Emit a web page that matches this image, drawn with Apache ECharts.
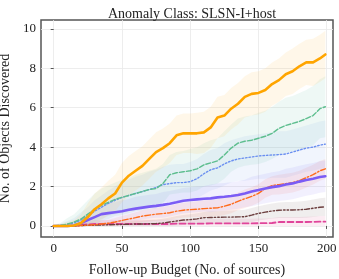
<!DOCTYPE html>
<html><head><meta charset="utf-8">
<script src="https://cdn.jsdelivr.net/npm/echarts@6/dist/echarts.min.js"></script>
<style>html,body{margin:0;padding:0;background:#fff}#c{width:339px;height:279px}</style>
</head><body><div id="c"></div>
<script>
const budget = [0,5,10,15,20,25,30,35,40,45,50,55,60,65,70,75,80,85,90,95,100,105,110,115,120,125,130,135,140,145,150,155,160,165,170,175,180,185,190,195,199];
const xTicks = [0,50,100,150,200];
const yTicks = [0,2,4,6,8,10];

const orangeMean = [0,0,0,0.02,0.15,0.45,0.85,1.1,1.4,1.65,2.2,2.55,2.8,3.05,3.4,3.75,3.95,4.2,4.6,4.7,4.7,4.7,4.75,5.0,5.5,5.6,5.95,6.2,6.55,6.7,6.75,6.9,7.2,7.4,7.7,7.85,8.1,8.3,8.3,8.5,8.7];
const orangeUp = [0.05,0.1,0.2,0.3,0.6,1.15,1.65,1.95,2.3,2.6,3.2,3.55,3.8,4.05,4.4,4.75,4.95,5.2,5.6,5.7,5.7,5.75,5.8,6.05,6.55,6.65,7.0,7.25,7.6,7.8,7.85,8.0,8.3,8.5,8.8,9.0,9.25,9.45,9.5,9.7,9.9];
const orangeLo = [0,0,0,0,0,0,0.1,0.3,0.55,0.75,1.2,1.55,1.8,2.05,2.4,2.75,2.95,3.2,3.6,3.7,3.7,3.65,3.7,3.95,4.45,4.55,4.9,5.15,5.5,5.6,5.65,5.8,6.1,6.3,6.6,6.7,6.95,7.15,7.1,7.3,7.5];

const greenMean = [0,0.03,0.1,0.2,0.35,0.6,0.85,1.05,1.2,1.35,1.45,1.55,1.65,1.75,1.85,1.9,2.15,2.6,2.7,2.75,2.8,2.9,3.1,3.2,3.3,3.6,3.95,4.2,4.3,4.35,4.45,4.55,4.7,4.95,5.1,5.2,5.3,5.45,5.6,5.95,6.05];
const greenUp = [0.05,0.15,0.4,0.6,0.95,1.3,1.65,1.9,2.05,2.2,2.35,2.45,2.6,2.7,2.8,2.9,3.15,3.6,3.75,3.8,3.9,4.0,4.2,4.35,4.45,4.8,5.15,5.45,5.55,5.6,5.75,5.85,6.05,6.3,6.5,6.6,6.75,6.9,7.1,7.45,7.6];
const greenLo = [0,0,0,0,0,0,0.05,0.25,0.35,0.5,0.55,0.65,0.75,0.8,0.9,0.9,1.15,1.6,1.65,1.7,1.7,1.8,2.0,2.05,2.15,2.4,2.75,2.95,3.05,3.1,3.15,3.25,3.4,3.6,3.7,3.8,3.85,4.0,4.1,4.45,4.5];

const blueMean = [0,0.02,0.08,0.15,0.3,0.5,0.75,0.95,1.15,1.3,1.45,1.55,1.65,1.75,1.85,1.95,2.1,2.15,2.2,2.2,2.25,2.4,2.65,2.85,2.95,3.15,3.3,3.4,3.45,3.5,3.55,3.58,3.6,3.62,3.65,3.75,3.85,3.95,4.0,4.1,4.15];
const blueUp = [0.05,0.1,0.25,0.4,0.7,0.95,1.3,1.55,1.8,2.0,2.25,2.35,2.5,2.6,2.75,2.85,3.0,3.1,3.15,3.15,3.25,3.4,3.65,3.85,3.95,4.2,4.35,4.45,4.55,4.6,4.65,4.7,4.75,4.8,4.8,4.9,5.0,5.1,5.2,5.3,5.35];
const blueLo = [0,0,0,0,0,0.05,0.2,0.35,0.5,0.6,0.65,0.75,0.8,0.9,0.95,1.05,1.2,1.2,1.25,1.25,1.25,1.4,1.6,1.8,1.9,2.05,2.2,2.3,2.3,2.35,2.4,2.4,2.45,2.45,2.45,2.55,2.65,2.75,2.8,2.9,2.95];

const purpleMean = [0,0,0,0.02,0.15,0.3,0.45,0.6,0.65,0.7,0.75,0.82,0.88,0.93,0.98,1.02,1.07,1.13,1.2,1.28,1.32,1.35,1.38,1.4,1.45,1.48,1.52,1.57,1.65,1.75,1.82,1.9,1.97,2.02,2.1,2.16,2.25,2.33,2.4,2.48,2.52];
const purpleUp = [0.02,0.02,0.05,0.1,0.4,0.65,0.85,1.05,1.15,1.2,1.3,1.37,1.48,1.53,1.58,1.62,1.72,1.78,1.85,1.93,1.97,2.0,2.03,2.1,2.15,2.18,2.22,2.27,2.35,2.5,2.57,2.65,2.72,2.77,2.9,2.96,3.05,3.13,3.2,3.28,3.32];
const purpleLo = [0,0,0,0,0,0,0.05,0.15,0.15,0.2,0.2,0.27,0.28,0.33,0.38,0.42,0.42,0.48,0.55,0.63,0.67,0.7,0.73,0.7,0.75,0.78,0.82,0.87,0.95,1.0,1.07,1.15,1.22,1.27,1.3,1.36,1.45,1.53,1.6,1.68,1.72];

const redMean = [0,0,0,0,0.02,0.04,0.06,0.1,0.14,0.2,0.28,0.35,0.42,0.5,0.55,0.6,0.63,0.67,0.75,0.8,0.83,0.85,0.88,0.9,0.92,1.0,1.1,1.25,1.38,1.5,1.65,1.9,2.05,2.1,2.15,2.2,2.3,2.45,2.6,2.8,2.9];
const redUp = [0,0.02,0.05,0.08,0.12,0.16,0.2,0.26,0.32,0.4,0.5,0.6,0.7,0.8,0.87,0.93,0.98,1.03,1.12,1.18,1.22,1.25,1.3,1.32,1.35,1.45,1.55,1.7,1.85,1.97,2.12,2.37,2.52,2.6,2.65,2.7,2.8,2.95,3.1,3.3,3.4];
const redLo = [0,0,0,0,0,0,0,0,0,0.02,0.06,0.1,0.14,0.2,0.23,0.27,0.28,0.31,0.38,0.42,0.44,0.45,0.46,0.48,0.49,0.55,0.65,0.8,0.91,1.03,1.18,1.43,1.58,1.6,1.65,1.7,1.8,1.95,2.1,2.3,2.4];

const brownMean = [0,0,0,0,0.02,0.03,0.04,0.05,0.06,0.07,0.08,0.09,0.1,0.1,0.11,0.12,0.15,0.2,0.25,0.3,0.32,0.36,0.42,0.43,0.44,0.45,0.45,0.46,0.47,0.55,0.64,0.7,0.76,0.8,0.81,0.81,0.82,0.85,0.9,0.95,0.97];
const brownUp = [0.01,0.02,0.04,0.06,0.1,0.12,0.14,0.16,0.18,0.2,0.22,0.24,0.26,0.28,0.3,0.32,0.37,0.43,0.5,0.56,0.59,0.64,0.71,0.73,0.75,0.77,0.78,0.8,0.82,0.91,1.0,1.07,1.14,1.19,1.21,1.22,1.24,1.28,1.34,1.4,1.43];
const brownLo = [0,0,0,0,0,0,0,0,0,0,0,0,0,0,0,0,0,0,0.02,0.05,0.06,0.08,0.13,0.13,0.13,0.13,0.12,0.12,0.12,0.19,0.28,0.33,0.38,0.41,0.41,0.4,0.4,0.42,0.46,0.5,0.51];

const pinkMean = [0,0,0,0,0.06,0.08,0.1,0.1,0.1,0.1,0.1,0.1,0.1,0.1,0.1,0.1,0.1,0.1,0.12,0.12,0.12,0.12,0.12,0.13,0.13,0.13,0.13,0.13,0.13,0.13,0.14,0.14,0.15,0.2,0.2,0.2,0.2,0.2,0.21,0.22,0.22];
const pinkUp = [0.01,0.02,0.05,0.1,0.2,0.25,0.3,0.3,0.3,0.3,0.3,0.3,0.32,0.32,0.32,0.32,0.32,0.33,0.35,0.35,0.35,0.35,0.35,0.36,0.36,0.36,0.37,0.37,0.37,0.37,0.38,0.38,0.4,0.45,0.46,0.46,0.46,0.47,0.48,0.5,0.5];
const pinkLo = [0,0,0,0,0,0,0,0,0,0,0,0,0,0,0,0,0,0,0,0,0,0,0,0,0,0,0,0,0,0,0,0,0,0,0,0,0,0,0,0,0];

const SERIF = '"Liberation Serif","DejaVu Serif",serif';
const groups = [
  {name:'pink',  mean:pinkMean,  up:pinkUp,  lo:pinkLo,  color:'#E0449A', band:'rgba(230,80,150,0.11)', width:1.8, type:[6,3]},
  {name:'brown', mean:brownMean, up:brownUp, lo:brownLo, color:'#6B3E3E', band:'rgba(120,100,100,0.11)', width:1.4, type:[5,2,1.5,2,1.5,2]},
  {name:'red',   mean:redMean,   up:redUp,   lo:redLo,   color:'#FF6A1A', band:'rgba(255,110,80,0.11)', width:1.4, type:[6,2,1.5,2]},
  {name:'purple',mean:purpleMean,up:purpleUp,lo:purpleLo,color:'#7B5CF5', band:'rgba(130,110,245,0.10)', width:2.6, type:'solid'},
  {name:'blue',  mean:blueMean,  up:blueUp,  lo:blueLo,  color:'#6A8FF0', band:'rgba(100,149,237,0.09)', width:1.4, type:[1.5,2]},
  {name:'green', mean:greenMean, up:greenUp, lo:greenLo, color:'#5DBE8E', band:'rgba(102,194,165,0.11)', width:1.4, type:[5,2]},
  {name:'orange',mean:orangeMean,up:orangeUp,lo:orangeLo,color:'#FFA500', band:'rgba(255,200,110,0.15)', width:2.6, type:'solid'}
];
const series = [];
groups.forEach(g => {
  series.push({type:'custom', silent:true, z:1, clip:true,
    data: budget.map((x,i)=>[x, g.lo[i], g.up[i]]),
    encode:{x:0, y:[1,2]},
    renderItem:function(params, api){
      if (params.dataIndex !== 0) return null;
      const top = budget.map((x,i)=>api.coord([x, g.up[i]]));
      const bot = budget.map((x,i)=>api.coord([x, g.lo[i]])).reverse();
      return {type:'polygon', shape:{points: top.concat(bot)}, style:{fill:g.band}};
    }});
});
groups.forEach((g,k) => {
  series.push({type:'line', data:budget.map((x,i)=>[x,g.mean[i]]), symbol:'none', z:3+k,
    lineStyle:{color:g.color, width:g.width, type:g.type, cap:'round', join:'round'}});
});

const chart = echarts.init(document.getElementById('c'), null, {renderer:'canvas'});
chart.setOption({
  animation:false,
  backgroundColor:'#fff',
  title:{text:'Anomaly Class: SLSN-I+host', left:187, top:2, textAlign:'center',
    textStyle:{fontFamily:SERIF, fontSize:14, fontWeight:'normal', color:'#222'}},
  grid:{left:41, right:6, top:20, bottom:42, containLabel:false, outerBoundsMode:'none', show:true, borderColor:'#555', borderWidth:1.5, backgroundColor:'transparent'},
  xAxis:{type:'value', min:-9.3, max:204.6,
    name:'Follow-up Budget (No. of sources)', nameLocation:'middle', nameGap:26,
    nameTextStyle:{fontFamily:SERIF, fontSize:14, color:'#222'},
    axisLine:{show:false},
    axisTick:{show:true, inside:false, length:3, customValues:xTicks, lineStyle:{color:'#555'}},
    axisLabel:{customValues:xTicks, fontFamily:SERIF, fontSize:13, color:'#222', margin:5},
    splitLine:{show:true, lineStyle:{color:'#e8e8e8', width:0.8}}},
  yAxis:{type:'value', min:-0.56, max:10.45,
    name:'No. of Objects Discovered', nameLocation:'middle', nameGap:24,
    nameTextStyle:{fontFamily:SERIF, fontSize:14, color:'#222'},
    axisLine:{show:false},
    axisTick:{show:true, inside:false, length:3, customValues:yTicks, lineStyle:{color:'#555'}},
    axisLabel:{customValues:yTicks, fontFamily:SERIF, fontSize:13, color:'#222', margin:5},
    splitLine:{show:true, lineStyle:{color:'#e8e8e8', width:0.8}}},
  series:series
});
</script></body></html>
